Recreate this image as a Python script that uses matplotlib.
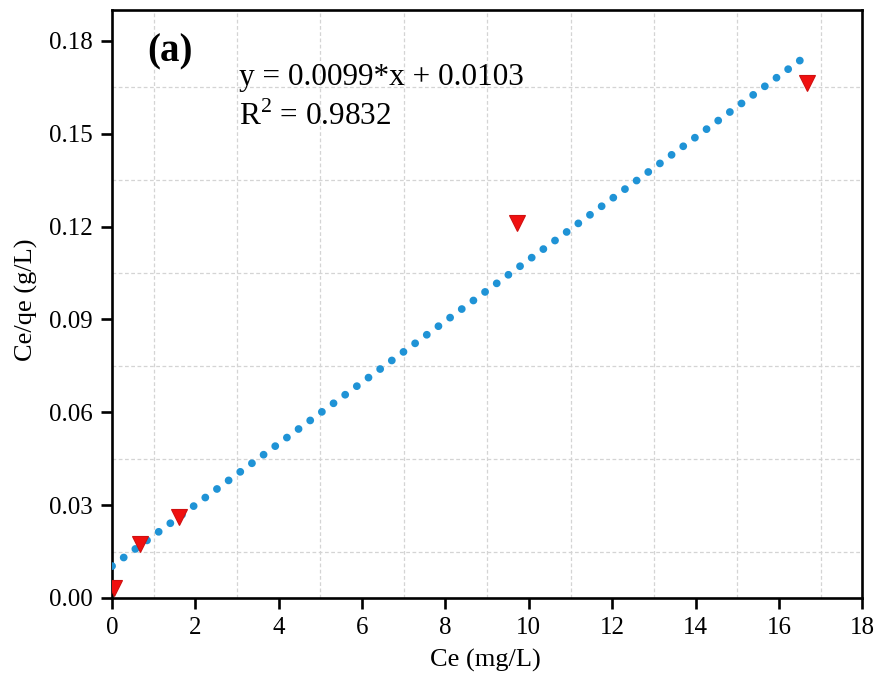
import numpy as np
import matplotlib
matplotlib.use("Agg")
import matplotlib.pyplot as plt
from matplotlib.ticker import MultipleLocator, FormatStrFormatter

plt.rcParams['font.family'] = ['Liberation Serif', 'DejaVu Serif']
plt.rcParams['mathtext.fontset'] = 'custom'
plt.rcParams['mathtext.rm'] = 'Liberation Serif'

# Langmuir linear fit data
ce = [0.05, 0.68, 1.6, 9.72, 16.68]          # Ce (mg/L)
ce_qe = [0.0031, 0.0174, 0.0261, 0.1213, 0.1664]  # Ce/qe (g/L)
slope = 0.0099
intercept = 0.0103
r2 = 0.9832

fig = plt.figure(figsize=(8.89, 6.95), dpi=100)
ax = fig.add_axes([0.126, 0.1396, 0.844, 0.846])

# fitted line, dotted
x_fit = np.array([0.0, max(ce)])
ax.plot(x_fit, slope * x_fit + intercept, color='#1f93d6', linewidth=5.6,
        linestyle=(0, (0.01, 1.85)), dash_capstyle='round', zorder=3)

# data points
ax.plot(ce, ce_qe, linestyle='none', marker='v', markersize=12,
        color='#f01010', markeredgecolor='#d01010', markeredgewidth=0.8, zorder=4)

ax.set_xlim(0, 18)
ax.set_ylim(0, 0.19)
ax.xaxis.set_major_locator(MultipleLocator(2))
ax.yaxis.set_major_locator(MultipleLocator(0.03))
ax.yaxis.set_major_formatter(FormatStrFormatter('%.2f'))

# grid on the odd positions only
ax.xaxis.set_minor_locator(MultipleLocator(2, offset=1))
ax.yaxis.set_minor_locator(MultipleLocator(0.03, offset=0.015))
ax.grid(True, which='minor', color='#d4d4d4', linestyle=(0, (3, 2)), linewidth=0.9)
ax.grid(False, which='major')

for sp in ax.spines.values():
    sp.set_linewidth(1.9)
ax.tick_params(which='major', direction='out', length=8, width=1.9,
               labelsize=18, pad=6, top=False, right=False)
ax.tick_params(which='minor', length=0)

ax.set_xlabel('Ce (mg/L)', fontsize=19)
ax.set_ylabel('Ce/qe (g/L)', fontsize=19)
ax.xaxis.set_label_coords(0.497, -0.086)
ax.yaxis.set_label_coords(-0.099, 0.507)

ax.text(0.077, 0.929, '(a)', transform=ax.transAxes, fontsize=28,
        fontweight='bold', ha='center', va='center')
ax.text(0.169, 0.872, f'y = {slope:.4f}*x + {intercept:.4f}', transform=ax.transAxes,
        fontsize=22.5, ha='left', va='baseline')
ax.text(0.169, 0.804, f'R$^2$ = {r2:.4f}', transform=ax.transAxes,
        fontsize=22.5, ha='left', va='baseline')

fig.savefig('out.png', dpi=100)
